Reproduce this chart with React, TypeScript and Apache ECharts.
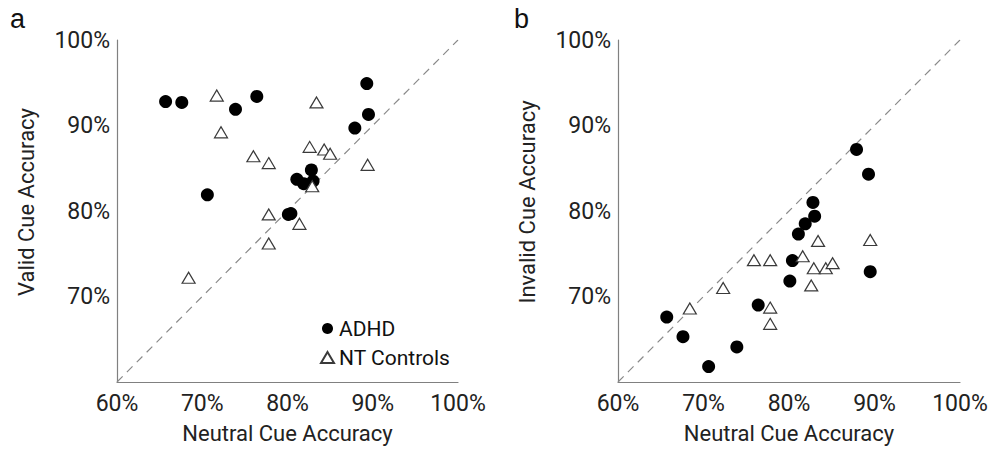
import React, { useEffect, useRef } from "react";
import * as echarts from "echarts";

// Panel a: neutral vs valid cue accuracy (%)
const adhdNeutral = [65.7, 67.6, 73.9, 76.4, 70.6, 89.3, 89.5, 87.9, 82.8, 81.1, 81.9, 83.0, 80.1, 80.4];
const adhdValid = [92.8, 92.7, 91.9, 93.4, 81.9, 94.9, 91.3, 89.7, 84.8, 83.7, 83.2, 83.5, 79.6, 79.7];
const ntNeutralA = [71.7, 72.2, 83.4, 76.0, 77.8, 82.6, 84.3, 85.0, 89.4, 82.9, 77.8, 81.4, 77.8, 68.4];
const ntValid = [93.5, 89.2, 92.7, 86.4, 85.6, 87.5, 87.2, 86.7, 85.4, 82.9, 79.6, 78.5, 76.2, 72.2];

// Panel b: neutral vs invalid cue accuracy (%)
const adhdInvalid = [67.6, 65.3, 64.1, 69.0, 61.8, 84.3, 72.9, 87.2, 81.0, 77.3, 78.5, 79.4, 71.8, 74.2];
const ntNeutralB = [83.4, 89.5, 81.6, 75.9, 77.8, 82.9, 84.3, 85.1, 82.6, 72.3, 68.4, 77.8, 77.8];
const ntInvalid = [76.5, 76.6, 74.7, 74.25, 74.25, 73.3, 73.3, 73.9, 71.3, 71.0, 68.6, 68.7, 66.8];

const axisTicks = [60, 70, 80, 90, 100];
const identityLine = [60, 100];
const panelLetters = ["a", "b"];
const yTitles = ["Valid Cue Accuracy", "Invalid Cue Accuracy"];
const xTitle = "Neutral Cue Accuracy";
const legendNames = ["ADHD", "NT Controls"];

const FONT = "Roboto, 'Liberation Sans', sans-serif";

export default function App() {
  const ref = useRef<HTMLDivElement>(null);
  useEffect(() => {
    if (!ref.current) return;
    const chart = echarts.init(ref.current, null, { renderer: "svg" });
    const pairs = (xs: number[], ys: number[]) => xs.map((x, i) => [x, ys[i]]);
    const xAxisBase = (gridIndex: number) => ({
      gridIndex,
      type: "value",
      min: axisTicks[0],
      max: axisTicks[axisTicks.length - 1],
      interval: 10,
      name: xTitle,
      nameLocation: "middle",
      nameGap: 40,
      nameTextStyle: { fontFamily: FONT, fontSize: 22, color: "#222" },
      axisLine: { show: true, lineStyle: { color: "#808080", width: 1.2 } },
      axisTick: { show: false },
      splitLine: { show: false },
      axisLabel: {
        margin: 10,
        fontFamily: FONT,
        fontSize: 23,
        color: "#222",
        formatter: (v: number) => `${v}%`,
      },
    });
    const yAxisBase = (gridIndex: number) => ({
      gridIndex,
      type: "value",
      min: axisTicks[0],
      max: axisTicks[axisTicks.length - 1],
      interval: 10,
      name: yTitles[gridIndex],
      nameLocation: "middle",
      nameGap: 80,
      nameTextStyle: { fontFamily: FONT, fontSize: 22, color: "#222", padding: [0, 0, 0, 18] },
      axisLine: { show: true, lineStyle: { color: "#808080", width: 1.2 } },
      axisTick: { show: false },
      splitLine: { show: false },
      axisLabel: {
        margin: 7,
        fontFamily: FONT,
        fontSize: 23,
        color: "#222",
        formatter: (v: number) => (v === axisTicks[0] ? "" : `${v}%`),
      },
    });
    const circle = (xi: number, data: number[][]) => ({
      name: legendNames[0],
      type: "scatter",
      xAxisIndex: xi,
      yAxisIndex: xi,
      symbol: "circle",
      symbolSize: 13,
      itemStyle: { color: "#000", opacity: 1 },
      data,
      z: 3,
    });
    const tri = (xi: number, data: number[][]) => ({
      name: legendNames[1],
      type: "scatter",
      xAxisIndex: xi,
      yAxisIndex: xi,
      symbol: "triangle",
      symbolSize: [13, 11],
      itemStyle: { color: "#fff", borderColor: "#3a3a3a", borderWidth: 1.2, opacity: 1 },
      data,
      z: 4,
    });
    const diag = (xi: number) => ({
      type: "line",
      xAxisIndex: xi,
      yAxisIndex: xi,
      data: identityLine.map((v) => [v, v]),
      symbol: "none",
      silent: true,
      lineStyle: { color: "#8a8a8a", width: 1.2, type: [8, 6] },
      z: 1,
    });
    chart.setOption({
      animation: false,
      backgroundColor: "#fff",
      grid: [
        { left: 117, right: 534, top: 40, bottom: 70, containLabel: false },
        { left: 618, right: 32, top: 40, bottom: 70, containLabel: false },
      ],
      xAxis: [xAxisBase(0), xAxisBase(1)],
      yAxis: [yAxisBase(0), yAxisBase(1)],
      legend: {
        data: legendNames,
        orient: "vertical",
        left: 315,
        top: 313,
        itemWidth: 13,
        itemHeight: 11,
        itemGap: 8,
        textStyle: { fontFamily: FONT, fontSize: 21, color: "#111" },
        selectedMode: false,
      },
      graphic: panelLetters.map((t, i) => ({
        type: "text",
        left: i === 0 ? 10 : 514,
        top: 5,
        style: { text: t, fontFamily: "'Liberation Sans', sans-serif", fontSize: 27, fill: "#111" },
      })),
      series: [
        diag(0),
        circle(0, pairs(adhdNeutral, adhdValid)),
        tri(0, pairs(ntNeutralA, ntValid)),
        diag(1),
        circle(1, pairs(adhdNeutral, adhdInvalid)),
        tri(1, pairs(ntNeutralB, ntInvalid)),
      ],
    });
    return () => chart.dispose();
  }, []);
  return (
    <div
      ref={ref}
      style={{ position: "fixed", left: 0, top: 0, width: 992, height: 452, background: "#fff" }}
    />
  );
}
